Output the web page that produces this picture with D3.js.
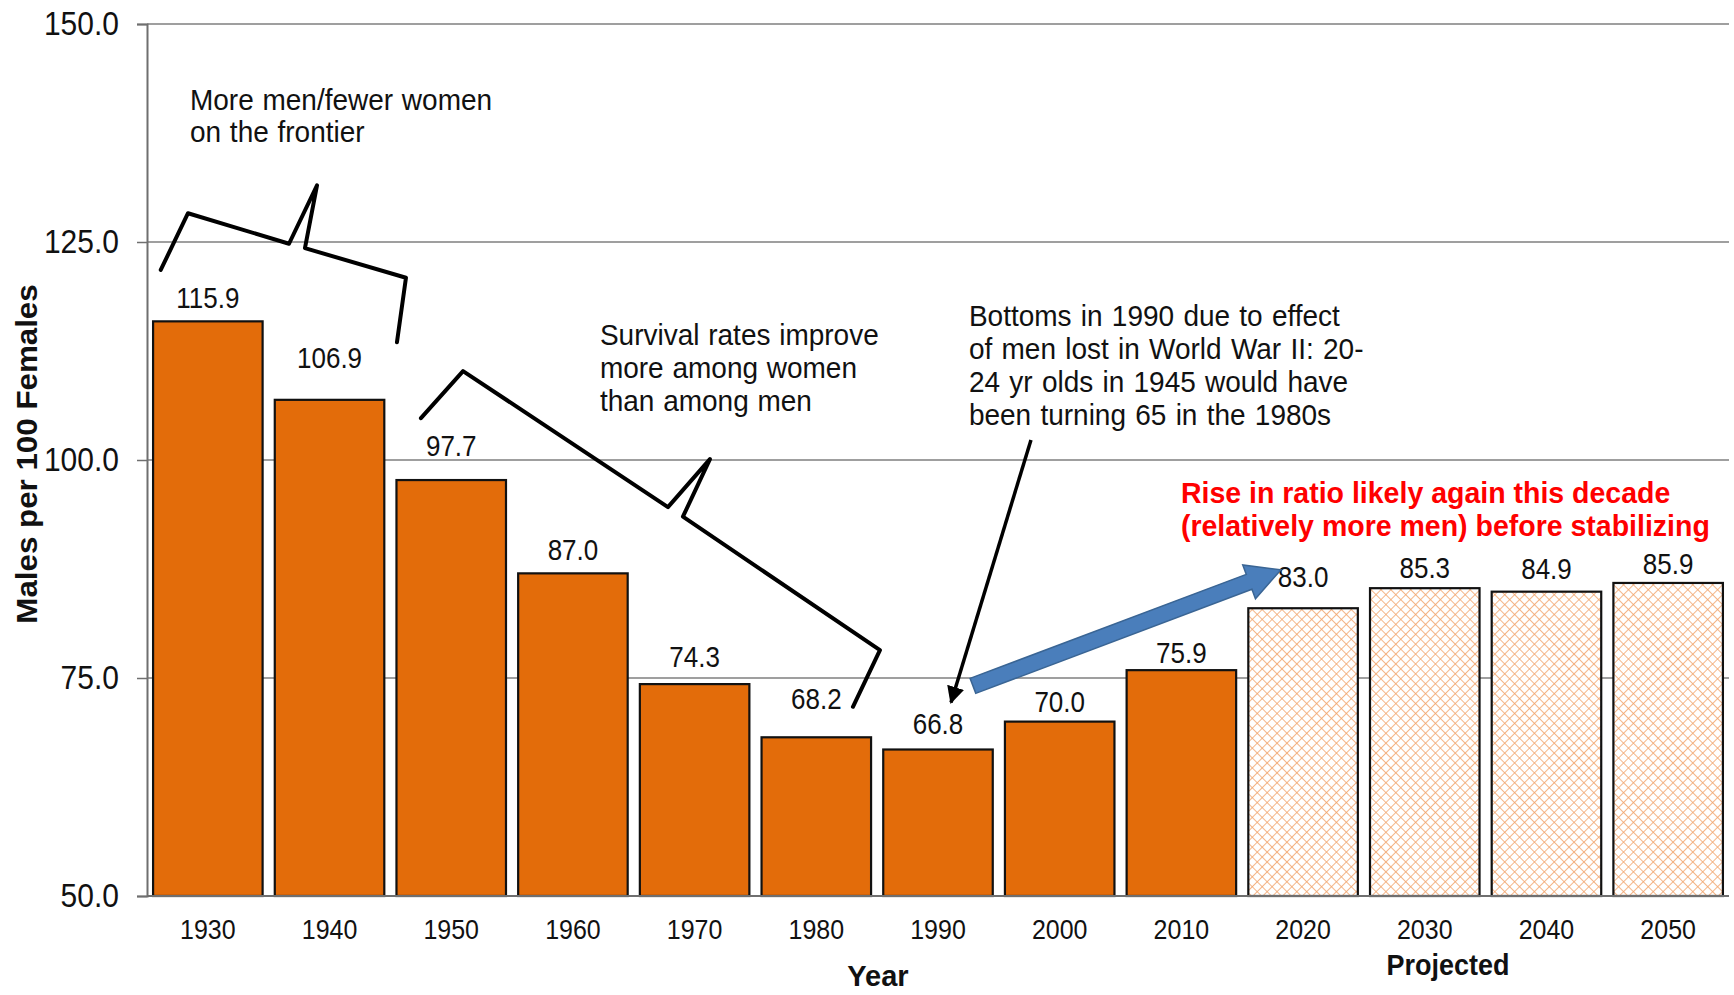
<!DOCTYPE html>
<html><head><meta charset="utf-8">
<script src="https://cdn.jsdelivr.net/npm/d3@7"></script>
<style>body{margin:0;background:#fff}svg{display:block}text{font-family:"Liberation Sans",Arial,sans-serif}</style>
</head><body>
<svg id="c" width="1734" height="995"></svg>
<script>
const categories = ["1930","1940","1950","1960","1970","1980","1990","2000","2010","2020","2030","2040","2050"];
const ratios = [115.9,106.9,97.7,87.0,74.3,68.2,66.8,70.0,75.9,83.0,85.3,84.9,85.9];
const projected = ["2020","2030","2040","2050"];
const yTicks = [50,75,100,125,150];
// gap (px) between each value label baseline and its bar top, as placed in the original
const labelGap = [13,32,24,13,17,28,16,10,7,21,10,13,9];

const svg = d3.select("#c");
const L = 147, R = 1729, T = 24, B = 896;
const x = d3.scaleBand().domain(categories).range([L, R]).paddingInner(0.1).paddingOuter(0.05);
const y = d3.scaleLinear().domain([50,150]).range([B, T]);
const step = x.step();
const xf = f => L + f*step;   // position in band-step units from left axis

// pattern
const defs = svg.append("defs");
const pat = defs.append("pattern").attr("id","hatch").attr("patternUnits","userSpaceOnUse")
  .attr("width",7).attr("height",7).attr("patternTransform","rotate(45)");
pat.append("rect").attr("width",7).attr("height",7).attr("fill","#fff");
pat.append("line").attr("x1",0).attr("y1",0).attr("x2",7).attr("y2",0).attr("stroke","#F2A46B").attr("stroke-width",1.6);
pat.append("line").attr("x1",0).attr("y1",0).attr("x2",0).attr("y2",7).attr("stroke","#F2A46B").attr("stroke-width",1.6);

// gridlines
svg.append("g").selectAll("line").data(yTicks.filter(d=>d>50)).join("line")
  .attr("x1",L).attr("x2",R).attr("y1",d=>y(d)).attr("y2",d=>y(d))
  .attr("stroke","#7f7f7f").attr("stroke-width",1.5);

// y axis
const yAxis = svg.append("g").attr("transform",`translate(${L},0)`)
  .call(d3.axisLeft(y).tickValues(yTicks).tickFormat(d3.format(".1f")).tickSize(10).tickPadding(18));
yAxis.select(".domain").attr("stroke","#6f6f6f").attr("stroke-width",2);
yAxis.selectAll(".tick line").attr("stroke","#6f6f6f").attr("stroke-width",1.5);
yAxis.selectAll(".tick text").attr("font-size",30).attr("fill","#111").attr("transform","scale(1,1.08)")
  .style("font-family","Liberation Sans, Arial");

// bars
svg.append("g").selectAll("rect").data(categories).join("rect")
  .attr("x",d=>x(d)).attr("width",x.bandwidth())
  .attr("y",(d,i)=>y(ratios[i])).attr("height",(d,i)=>B - y(ratios[i]))
  .attr("fill",d=>projected.includes(d)?"url(#hatch)":"#E36C0A")
  .attr("stroke","#111").attr("stroke-width",2.2);

// x baseline
svg.append("line").attr("x1",L).attr("x2",R).attr("y1",B).attr("y2",B).attr("stroke","#6f6f6f").attr("stroke-width",2);

// data labels
svg.append("g").selectAll("text").data(categories).join("text")
  .attr("transform",(d,i)=>`translate(${x(d)+x.bandwidth()/2},${y(ratios[i])-labelGap[i]}) scale(1,1.13)`)
  .attr("text-anchor","middle").attr("font-size",26).attr("fill","#111")
  .text((d,i)=>d3.format(".1f")(ratios[i]));

// x tick labels
svg.append("g").selectAll("text").data(categories).join("text")
  .attr("transform",d=>`translate(${x(d)+x.bandwidth()/2},939) scale(1,1.1)`)
  .attr("text-anchor","middle").attr("font-size",25).attr("fill","#111").text(d=>d);

// axis titles
svg.append("text").attr("x",(L+R)/2 - 60).attr("y",986).attr("text-anchor","middle")
  .attr("font-size",29).attr("font-weight","bold").attr("fill","#111").text("Year");
svg.append("text").attr("transform",`translate(${xf(10.69)},975) scale(1,1.1)`).attr("text-anchor","middle")
  .attr("font-size",27).attr("font-weight","bold").attr("fill","#111").text("Projected");
svg.append("text").attr("transform",`translate(37,${(T+B)/2 - 6}) rotate(-90) scale(1.08,1)`).attr("text-anchor","middle")
  .attr("font-size",29).attr("font-weight","bold").attr("fill","#111").text("Males per 100 Females");

// brackets
const lineGen = d3.line().x(p=>xf(p[0])).y(p=>y(p[1]));
const bracket1 = [[0.113,121.8],[0.337,128.3],[1.167,124.8],[1.397,131.5],[1.298,124.3],[2.128,120.9],[2.054,113.5]];
const bracket2 = [[2.251,104.8],[2.597,110.2],[4.281,94.6],[4.626,100.1],[4.404,93.5],[6.023,78.2],[5.801,71.7]];
[bracket1,bracket2].forEach(b=>svg.append("path").attr("d",lineGen(b)).attr("fill","none")
  .attr("stroke","#000").attr("stroke-width",4).attr("stroke-linejoin","round").attr("stroke-linecap","round"));

// annotation texts
function multi(lines, fx, v, opts){
  const g = svg.append("g");
  lines.forEach((t,i)=>{
    g.append("text").attr("transform",`translate(${fx},${y(v)+i*opts.lh}) scale(1,1.05)`)
      .attr("text-anchor",opts.anchor||"start").attr("font-size",opts.fs)
      .attr("font-weight",opts.bold?"bold":"normal").attr("fill",opts.fill||"#111")
      .attr("word-spacing",opts.ws||0).text(t);
  });
}
multi(["More men/fewer women","on the frontier"], xf(0.353), 140.1, {fs:28, lh:32, ws:1});
multi(["Survival rates improve","more among women","than among men"], xf(3.722), 113.2, {fs:28, lh:33, ws:1});
multi(["Bottoms in 1990 due to effect","of men lost in World War II: 20-","24 yr olds in 1945 would have","been turning 65 in the 1980s"], xf(6.754), 115.4, {fs:28, lh:33, ws:1.5});
multi(["Rise in ratio likely again this decade","(relatively more men) before stabilizing"], xf(8.496), 95.1, {fs:28.5, lh:33, bold:true, fill:"#FF0000"});

// black arrow
defs.append("marker").attr("id","ah").attr("viewBox","0 0 10 10").attr("refX",9).attr("refY",5)
  .attr("markerWidth",5).attr("markerHeight",5).attr("orient","auto")
  .append("path").attr("d","M0,0 L10,5 L0,10 Z").attr("fill","#000");
svg.append("line").attr("x1",xf(7.264)).attr("y1",y(102.3)).attr("x2",xf(6.607)).attr("y2",y(72.2))
  .attr("stroke","#000").attr("stroke-width",3.5).attr("marker-end","url(#ah)");

// blue block arrow
(function(){
  const x1 = xf(6.787), y1 = y(74.1), x2 = xf(9.318), y2 = y(87.4);
  const dx = x2-x1, dy = y2-y1, len = Math.hypot(dx,dy);
  const ang = Math.atan2(dy,dx)*180/Math.PI;
  const sw = 8, hw = 18, hl = 34;
  const pts = [[0,-sw],[len-hl,-sw],[len-hl,-hw],[len,0],[len-hl,hw],[len-hl,sw],[0,sw]];
  svg.append("path").attr("d","M"+pts.map(p=>p.join(",")).join("L")+"Z")
    .attr("transform",`translate(${x1},${y1}) rotate(${ang})`)
    .attr("fill","#4A7EBB").attr("stroke","#3A6594").attr("stroke-width",1.5);
})();
</script>
</body></html>
